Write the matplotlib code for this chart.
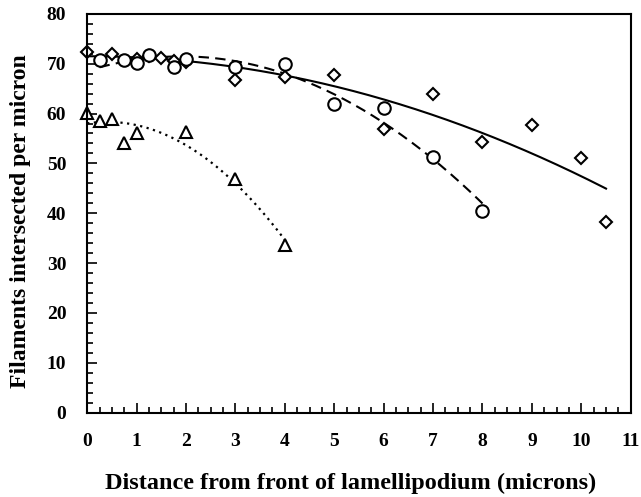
import numpy as np
import matplotlib
matplotlib.use("Agg")
import matplotlib.pyplot as plt
from matplotlib.ticker import MultipleLocator

# diamonds (solid fit)
diamond_x = [0, 0.5, 1.0, 1.25, 1.5, 1.75, 2, 3, 4, 5, 6, 7, 8, 9, 10, 10.5]
diamond_y = [72.4, 72.0, 70.9, 71.6, 71.2, 70.6, 70.4, 66.8, 67.3, 67.8, 56.9, 63.9, 54.2, 57.7, 51.1, 38.3]

# circles (dashed fit)
circle_x = [0.25, 0.75, 1.0, 1.25, 1.75, 2, 3, 4, 5, 6, 7, 8]
circle_y = [70.7, 70.8, 70.2, 71.8, 69.3, 70.9, 69.4, 70.0, 61.9, 61.1, 51.3, 40.5]

# triangles (dotted fit)
tri_x = [0, 0.25, 0.5, 0.75, 1.0, 2, 3, 4]
tri_y = [60.2, 58.5, 59.0, 54.0, 56.1, 56.3, 46.9, 33.7]

xticks = list(range(0, 12))
yticks = list(range(0, 90, 10))

plt.rcParams['font.family'] = ['Liberation Serif', 'DejaVu Serif']
plt.rcParams['font.weight'] = 'bold'

fig = plt.figure(figsize=(6.41, 4.97), dpi=100)
ax = fig.add_axes([0.136, 0.170, 0.848, 0.802])


def trend(xs, ys):
    coef = np.polyfit(xs, ys, 2)
    xx = np.linspace(min(xs), max(xs), 200)
    return xx, np.polyval(coef, xx)


xx, yy = trend(diamond_x, diamond_y)
ax.plot(xx, yy, color='black', lw=1.5, ls='-')
xx, yy = trend(circle_x, circle_y)
ax.plot(xx, yy, color='black', lw=1.5, ls=(0, (5, 3)))
xx, yy = trend(tri_x, tri_y)
ax.plot(xx, yy, color='black', lw=1.6, ls=(0, (1, 2)))

mk = dict(ls='none', mfc='white', mec='black', mew=1.5, clip_on=False)
ax.plot(diamond_x, diamond_y, marker='D', ms=6.5, **mk)
ax.plot(circle_x, circle_y, marker='o', ms=9, **mk)
ax.plot(tri_x, tri_y, marker='^', ms=9, **mk)

ax.set_xlim(0, 11)
ax.set_ylim(0, 80)
ax.set_xticks(xticks)
ax.set_yticks(yticks)
ax.xaxis.set_minor_locator(MultipleLocator(0.25))
ax.yaxis.set_minor_locator(MultipleLocator(2))
ax.tick_params(which='both', direction='in', top=False, right=False, width=1.2)
ax.tick_params(which='major', length=7, labelsize=14)
ax.tick_params(which='minor', length=4)
ax.tick_params(axis='x', which='major', pad=15)
ax.tick_params(axis='y', which='major', pad=15)
for s in ax.spines.values():
    s.set_linewidth(1.5)

for lab in ax.get_xticklabels() + ax.get_yticklabels():
    lab.set_fontweight('bold')

ax.set_xlabel('Distance from front of lamellipodium (microns)', fontsize=17.5,
              fontweight='bold')
ax.xaxis.set_label_coords(0.484, -0.152)
ax.set_ylabel('Filaments intersected per micron', fontsize=17,
              fontweight='bold')
ax.yaxis.set_label_coords(-0.103, 0.48)

fig.savefig('out.png', dpi=100)
